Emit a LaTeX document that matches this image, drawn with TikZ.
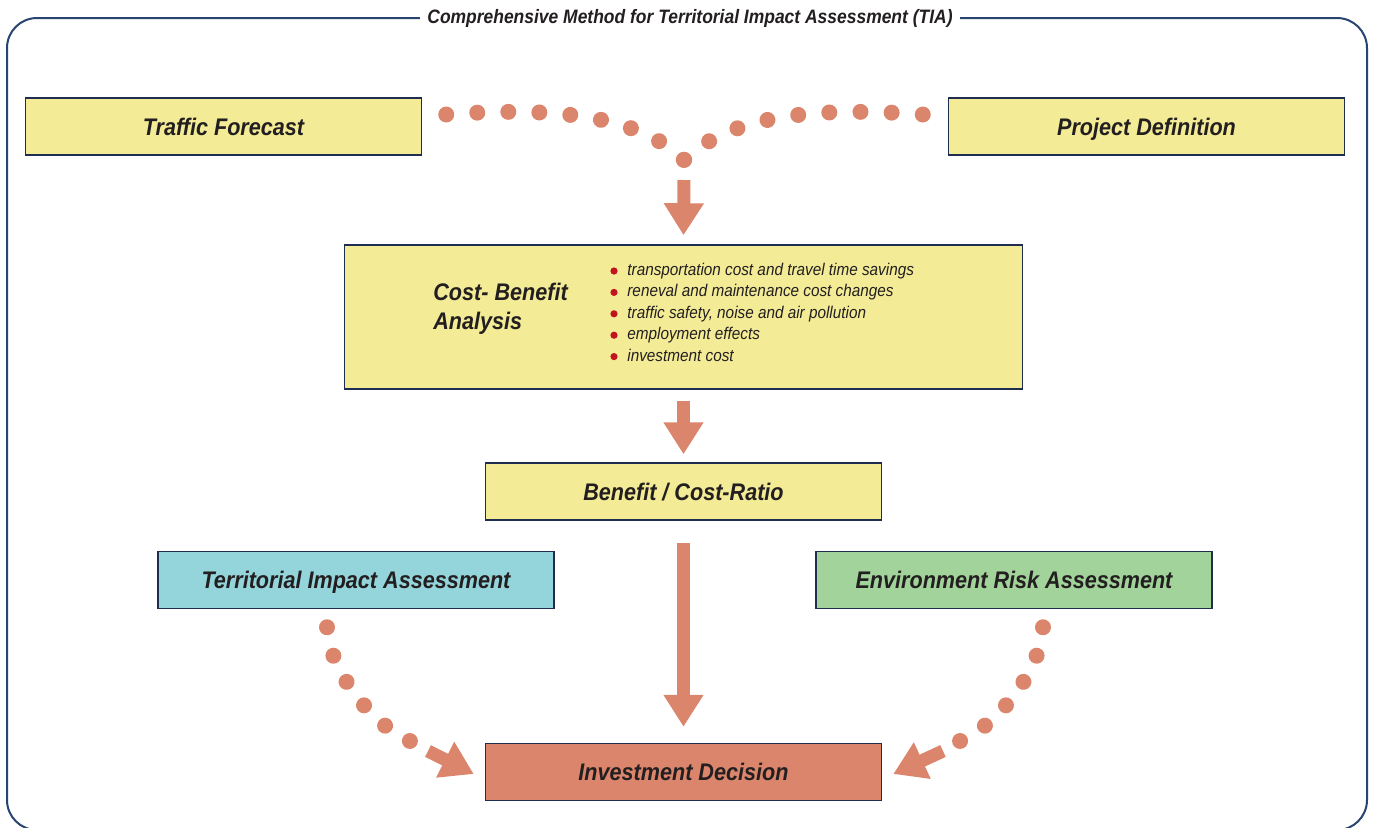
\documentclass[tikz,border=0pt]{standalone}
\usepackage{fontspec}
\usepackage{tikz}
\usetikzlibrary{arrows.meta,decorations.markings}

\newfontfamily\diagfont[FakeStretch=0.9]{Liberation Sans}

\definecolor{frameline}{RGB}{40,68,112}
\definecolor{boxline}{RGB}{30,45,80}
\definecolor{ink}{RGB}{35,31,32}
\definecolor{paleyellow}{RGB}{243,235,150}
\definecolor{paleblue}{RGB}{148,213,220}
\definecolor{palegreen}{RGB}{161,211,154}
\definecolor{salmon}{RGB}{219,134,108}
\definecolor{bulletred}{RGB}{192,20,30}

\begin{document}
\begin{tikzpicture}[x=0.5pt,y=-0.5pt,
  box/.style={draw=boxline, line width=0.75pt, minimum width=198pt, minimum height=28.5pt,
    inner sep=0pt, text height=8.6pt, text depth=0pt, text=ink,
    font=\diagfont\bfseries\itshape\fontsize{12}{14.5}\selectfont},
  item/.style={inner sep=0pt, text=ink, font=\diagfont\itshape\fontsize{8.5}{10.7}\selectfont},
  fatarrow/.style={salmon, line width=6.5pt, -{Triangle[width=19pt,length=16pt]}},
  dotrow/.style={decorate, decoration={markings,
    mark=between positions 0 and 1 step #1 with {\fill[salmon] (0,0) circle (4pt);}}}]
\useasboundingbox (0,0) rectangle (1373,827);

\draw[frameline, line width=1pt, rounded corners=15pt] (7,18) rectangle (1367,830);
\node[fill=white, inner xsep=3.5pt, inner ysep=1pt, text=ink,
  font=\diagfont\bfseries\itshape\fontsize{9.7}{11}\selectfont] (title) at (690,18)
  {Comprehensive Method for Territorial Impact Assessment (TIA)};

\node[box, fill=paleyellow] (traffic) at (223.5,126.5) {Traffic Forecast};
\node[box, fill=paleyellow] (project) at (1146.5,126.5) {Project Definition};
\node[box, fill=paleyellow, minimum width=339pt, minimum height=72pt] (cba) at (683.5,317) {};
\node[box, fill=paleyellow] (ratio) at (683.5,491.5) {Benefit / Cost-Ratio};
\node[box, fill=paleblue] (tia) at (356,580) {Territorial Impact Assessment};
\node[box, fill=palegreen] (era) at (1014,580) {Environment Risk Assessment};
\node[box, fill=salmon] (decision) at (683.5,772) {Investment Decision};

\node[anchor=west, align=left, inner sep=0pt, text=ink,
  font=\diagfont\bfseries\itshape\fontsize{12}{14.5}\selectfont] (cbahead) at (433,309)
  {Cost- Benefit\\Analysis};
\foreach \txt [count=\i] in {transportation cost and travel time savings,
    reneval and maintenance cost changes, {traffic safety, noise and air pollution},
    employment effects, investment cost}{
  \node[item, anchor=base west] (item\i) at (627,254.1+21.4*\i) {\txt};
  \fill[bulletred] (item\i.base west) ++(-13,-4.5) circle (1.8pt);
}

\coordinate (join) at (684,160);
\path[dotrow=0.1249] ([xshift=12pt,yshift=6pt]traffic.east) .. controls (560,106) and (640,117) .. (join);
\path[dotrow=0.1249] ([xshift=-12.5pt,yshift=6pt]project.west) .. controls (809,106) and (729,117) .. (join);
\draw[fatarrow] ([yshift=-10pt]join) -- ([yshift=4.5pt]cba.north);
\draw[fatarrow] ([yshift=-5.5pt]cba.south) -- ([yshift=4pt]ratio.north);
\draw[fatarrow] ([yshift=-11pt]ratio.south) -- ([yshift=8pt]decision.north);

\coordinate (tiaend) at (428,751);
\coordinate (eraend) at (943,751);
\path[dotrow=0.1999] ([xshift=-14.5pt,yshift=-9pt]tia.south) .. controls (329,670) and (372,725) .. (410,741);
\path[dotrow=0.1999] ([xshift=14.5pt,yshift=-9pt]era.south) .. controls (1041,670) and (998,725) .. (960,741);
\draw[fatarrow] (tiaend) -- ([xshift=-5.5pt,yshift=-1pt]decision.west);
\draw[fatarrow] (eraend) -- ([xshift=5.5pt,yshift=-1pt]decision.east);
\end{tikzpicture}
\end{document}
